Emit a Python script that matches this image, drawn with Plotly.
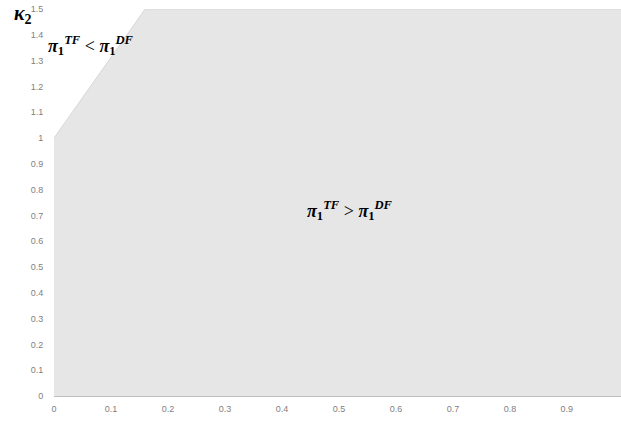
import plotly.graph_objects as go

# Boundary of the region where pi1^TF > pi1^DF (kappa_2 as function of x)
boundary_x = [0.0, 0.16, 0.995]
boundary_y = [1.0, 1.5, 1.5]

x_ticks = [0, 0.1, 0.2, 0.3, 0.4, 0.5, 0.6, 0.7, 0.8, 0.9]
y_ticks = [0, 0.1, 0.2, 0.3, 0.4, 0.5, 0.6, 0.7, 0.8, 0.9, 1, 1.1, 1.2, 1.3, 1.4, 1.5]

fig = go.Figure()
fig.add_trace(go.Scatter(
    x=boundary_x, y=boundary_y, mode="lines", fill="tozeroy",
    fillcolor="#e6e6e6", line=dict(color="#d6d6d6", width=1),
    hoverinfo="skip", showlegend=False,
))

math_font = dict(family="Liberation Serif", size=18, color="#000000")

def pi_label(op):
    return ("<b><i>π</i></b><sub><b>1</b></sub><sup><b><i>TF</i></b></sup>"
            f" {op} "
            "<b><i>π</i></b><sub><b>1</b></sub><sup><b><i>DF</i></b></sup>")

fig.add_annotation(x=0.52, y=0.72, xref="x", yref="y", text=pi_label("&gt;"),
                   showarrow=False, font=math_font, xanchor="center", yanchor="middle")
fig.add_annotation(x=0.065, y=1.36, xref="x", yref="y", text=pi_label("&lt;"),
                   showarrow=False, font=math_font, xanchor="center", yanchor="middle")
fig.add_annotation(x=-0.055, y=0.985, xref="paper", yref="paper",
                   text="<b><i>κ</i></b><sub><b>2</b></sub>", xanchor="center", yanchor="middle",
                   showarrow=False, font=dict(family="Liberation Serif", size=20, color="#000000"))

fig.update_layout(
    width=621, height=423,
    margin=dict(l=54, r=0, t=9, b=27, autoexpand=False),
    paper_bgcolor="white", plot_bgcolor="white",
    font=dict(family="Liberation Sans", size=9, color="#7f7f7f"),
    xaxis=dict(range=[0, 0.995], tickvals=x_ticks, showgrid=False, zeroline=False,
               showline=True, linecolor="#bfbfbf", linewidth=1, ticks="outside", ticklen=4,
               tickcolor="rgba(0,0,0,0)", automargin=False,
               tickfont=dict(size=9, color="#7f7f7f")),
    yaxis=dict(range=[0, 1.5], tickvals=y_ticks, showgrid=False, zeroline=False,
               showline=False, ticks="outside", ticklen=8, tickcolor="rgba(0,0,0,0)",
               automargin=False, tickfont=dict(size=9, color="#7f7f7f")),
)

fig.write_html("out.html", config={"displayModeBar": False},
               post_script="document.body.style.margin='0';document.body.style.overflow='hidden';")
